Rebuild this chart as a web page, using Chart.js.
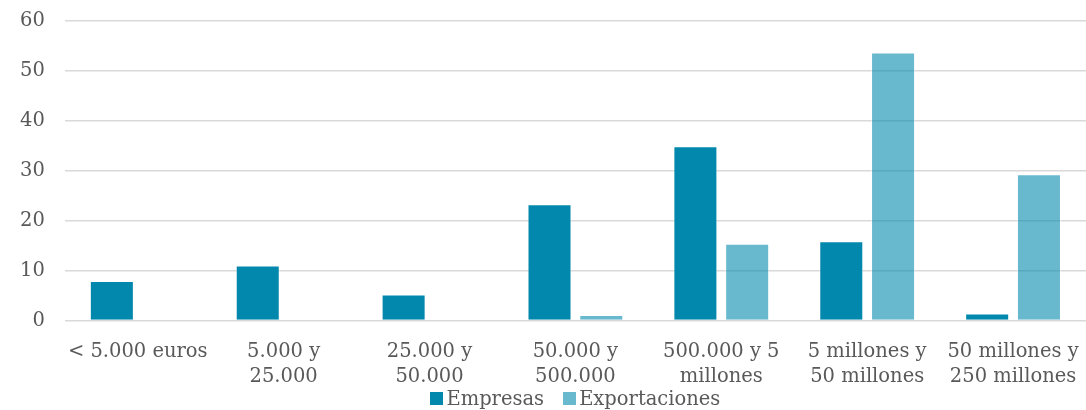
<!DOCTYPE html>
<html>
<head>
<meta charset="utf-8">
<script src="https://cdn.jsdelivr.net/npm/chart.js@4"></script>
<style>
  html, body { margin: 0; padding: 0; background: #fff; }
  #wrap { width: 1086px; height: 410px; position: relative; }
  #legend {
    position: absolute; top: 385px; height: 26px;
    display: flex; justify-content: center; align-items: center; gap: 19px;
    font: 19.5px 'DejaVu Serif', serif; color: #595959; white-space: nowrap;
  }
  #legend .item { display: flex; align-items: center; gap: 3px; }
  #legend .box { width: 13px; height: 13px; display: inline-block; }
</style>
</head>
<body>
<div id="wrap"><canvas id="chart"></canvas><div id="legend"></div></div>
<script>
// categories (multi-line labels as in the source)
const categories = [
  "< 5.000 euros",
  ["5.000 y", "25.000"],
  ["25.000 y", "50.000"],
  ["50.000 y", "500.000"],
  ["500.000 y 5", "millones"],
  ["5 millones y", "50 millones"],
  ["50 millones y", "250 millones"],
];
const empresas = [7.9, 11.0, 5.2, 23.3, 34.9, 15.9, 1.4];
const exportaciones = [0, 0, 0, 1.1, 15.4, 53.7, 29.3];
const yTicks = [0, 10, 20, 30, 40, 50, 60];

const textColor = "#595959";
const font = { family: "'DejaVu Serif', serif", size: 19.5, lineHeight: 1.33 };

// html legend centred under the plot area, built from the chart's own legend items
const htmlLegend = {
  id: "htmlLegend",
  afterUpdate(chart) {
    const el = document.getElementById("legend");
    const area = chart.chartArea;
    el.style.left = area.left + "px";
    el.style.width = (area.right - area.left) + "px";
    el.innerHTML = "";
    chart.options.plugins.legend.labels.generateLabels(chart).forEach((item) => {
      const div = document.createElement("div");
      div.className = "item";
      const box = document.createElement("span");
      box.className = "box";
      box.style.background = item.fillStyle;
      const txt = document.createElement("span");
      txt.textContent = item.text;
      div.append(box, txt);
      el.appendChild(div);
    });
  },
};

new Chart(document.getElementById("chart"), {
  type: "bar",
  data: {
    labels: categories,
    datasets: [
      {
        label: "Empresas",
        data: empresas,
        backgroundColor: "#0388ad",
        borderColor: "rgba(255,255,255,0.5)",
        borderWidth: 1,
      },
      {
        label: "Exportaciones",
        data: exportaciones,
        backgroundColor: "rgba(3,136,173,0.6)",
        borderColor: "rgba(255,255,255,0.5)",
        borderWidth: 1,
      },
    ],
  },
  options: {
    responsive: true,
    maintainAspectRatio: false,
    animation: false,
    categoryPercentage: 0.71,
    barPercentage: 0.85,
    layout: { padding: { top: 21, right: 0, left: 0, bottom: 0 } },
    scales: {
      x: {
        grid: { display: false, drawTicks: true, tickLength: 16 },
        border: { display: false },
        ticks: { color: textColor, font, maxRotation: 0, autoSkip: false, padding: 2 },
        afterFit: (scale) => { scale.height = 89.5; },
      },
      y: {
        min: 0,
        max: 60,
        afterBuildTicks: (axis) => { axis.ticks = yTicks.map((v) => ({ value: v })); },
        grid: { color: "#d9d9d9", lineWidth: 1.6, drawTicks: false },
        border: { display: false },
        ticks: { color: textColor, font, padding: 20 },
        afterFit: (scale) => { scale.paddingTop = 0; scale.paddingBottom = 0; },
      },
    },
    plugins: {
      legend: { display: false },
      tooltip: { enabled: false },
    },
  },
  plugins: [htmlLegend],
});
</script>
</body>
</html>
